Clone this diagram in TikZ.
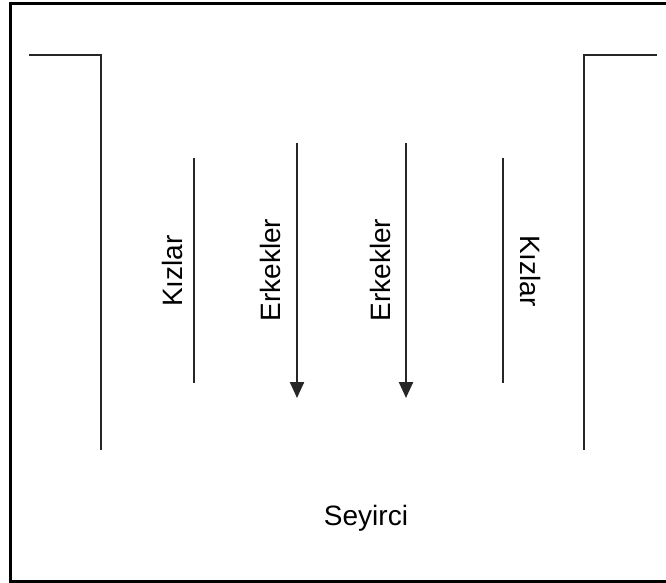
\documentclass[tikz,border=0pt]{standalone}
\usepackage{fontspec}
\setmainfont{Liberation Sans}
\usetikzlibrary{arrows.meta}

\begin{document}
\begin{tikzpicture}[x=1pt, y=-1pt, wall/.style={line width=2.3pt, draw=black!85}, row/.style={wall, -{Triangle[length=16pt, width=14pt]}}, lbl/.style={font=\fontsize{28}{30}\selectfont, inner sep=0pt}]
	\useasboundingbox (0,0) rectangle (666,582);
	\draw[line width=3pt] (680,3.3) -- (10.7,3.3) -- (10.7,581) -- (680,581);

	\coordinate (LA) at (29,55); \coordinate (LB) at (101,55); \coordinate (LC) at (101,450);
	\coordinate (RA) at (657,55); \coordinate (RB) at (584,55); \coordinate (RC) at (584,450);
	\draw[wall] (LA) -- (LB) -- (LC);
	\draw[wall] (RA) -- (RB) -- (RC);

	\coordinate (K1) at (194,158); \coordinate (K1e) at (194,383);
	\coordinate (E1) at (297,143); \coordinate (E1e) at (297,398);
	\coordinate (E2) at (406,143); \coordinate (E2e) at (406,398);
	\coordinate (K2) at (503,158); \coordinate (K2e) at (503,383);
	\draw[wall] (K1) -- (K1e); \draw[wall] (K2) -- (K2e);
	\draw[row] (E1) -- (E1e); \draw[row] (E2) -- (E2e);

	\node[lbl, rotate=90] (kizlar1) at (172,271) {Kızlar};
	\node[lbl, rotate=90] (erkek1) at (270,270) {Erkekler};
	\node[lbl, rotate=90] (erkek2) at (380,270) {Erkekler};
	\node[lbl, rotate=-90] (kizlar2) at (530,271) {Kızlar};
	\node[lbl] (seyirci) at (366,518) {Seyirci};
\end{tikzpicture}
\end{document}
